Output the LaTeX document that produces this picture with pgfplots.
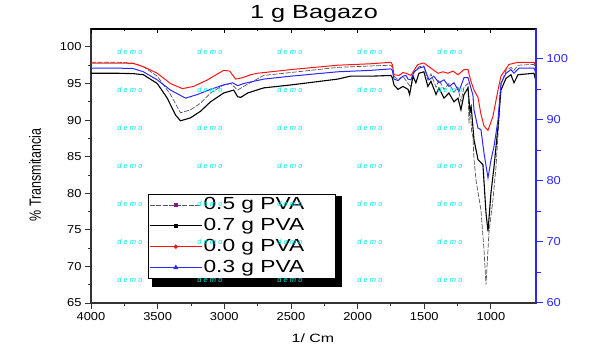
\documentclass[border=0pt]{standalone}
\usepackage{fontspec}
\setmainfont{Liberation Sans}
\newfontfamily\wfont[FakeStretch=1.33]{Liberation Sans}
\newfontfamily\tfont[FakeStretch=1.12]{Liberation Sans}
\usepackage{pgfplots}
\pgfplotsset{compat=1.18}
\definecolor{myblue}{RGB}{40,40,255}
\definecolor{myred}{RGB}{255,20,20}
\definecolor{demo}{RGB}{0,230,230}
\definecolor{mygray}{RGB}{85,85,85}
\definecolor{mypurple}{RGB}{140,20,140}
\newcommand{\leg}[1]{\scalebox{1.3}[1]{\fontsize{17.5}{18}\selectfont #1}\hspace{29pt}\null}
\begin{document}
\begin{tikzpicture}
\path[use as bounding box] (-91pt,-55pt) rectangle (507pt,303pt);
\fill[black] (61pt,16pt) rectangle (251pt,107pt);
\pgfplotsset{common/.style={scale only axis, width=445pt, height=274pt, at={(0pt,0pt)}, anchor=south west}}
\begin{axis}[common,
  x dir=reverse, xmin=662, xmax=4000, ymin=65, ymax=102.45,
  xtick={1000,1500,...,4000}, minor x tick num=1,
  ytick={65,70,...,100}, minor y tick num=1,
  xtick pos=bottom, ytick pos=left, tick align=outside,
  major tick length=6pt, minor tick length=3pt,
  axis line style={line width=1.1pt, black!80},
  tick style={line width=0.9pt, black!80},
  /pgf/number format/assume math mode=true,
  /pgf/number format/1000 sep={},
  ticklabel style={font=\tfont\fontsize{11.5}{12}\selectfont},
  legend style={at={(0.128,0.398)}, anchor=north west, draw=black, line width=0.6pt, fill=white,
    inner xsep=1pt, inner ysep=0.5pt, row sep=0pt,
    nodes={inner sep=1.2pt, text height=13.8pt, text depth=4.6pt}},
  legend cell align=left,
  legend image code/.code={\draw[#1,mark repeat=2,mark phase=2] plot coordinates {(0pt,0pt) (26pt,0pt) (52pt,0pt)};},
]
\addplot[mygray, line width=0.7pt, dash pattern=on 5pt off 1.5pt,
  legend image post style={mark=square*, mark size=1.6pt, mark options={solid, draw=mypurple, fill=mypurple}}] table {
4000 97.9
3800 97.9
3684 97.8
3607 97.3
3503 96.0
3404 93.5
3329 91.0
3254 91.4
3179 92.3
3103 93.7
3005 94.8
2953 95.0
2900 94.1
2855 94.6
2705 96.1
2502 96.5
2150 97.2
1900 97.4
1750 97.5
1740 97.2
1727 96.0
1697 95.5
1660 96.0
1622 95.0
1600 94.5
1577 96.5
1540 97.3
1503 97.4
1473 95.5
1450 96.3
1412 94.5
1390 95.5
1352 94.2
1315 95.0
1277 93.8
1247 94.5
1225 92.5
1202 94.5
1172 95.0
1165 89.5
1157 92.0
1145 88.5
1135 87.7
1127 84.6
1112 81.8
1075 77.7
1052 72.3
1037 67.5
1015 74.6
985 79.1
962 83.6
940 90.0
925 94.8
887 96.8
850 97.2
827 96.8
797 97.5
677 97.6
662 97.0
};
\addlegendentry{\leg{0.5 g PVA}}
\addplot[black, line width=1.1pt,
  legend image post style={mark=square*, mark size=1.6pt, mark options={solid, fill=black}}] table {
4000 96.4
3800 96.4
3684 96.35
3607 96.2
3503 95.0
3428 93.0
3366 90.7
3329 89.9
3254 90.3
3179 91.2
3103 92.5
3005 93.7
2930 94.1
2900 93.2
2877 93.1
2825 93.7
2705 94.4
2502 94.8
2150 95.6
2055 96.0
1900 96.0
1750 96.1
1740 95.8
1727 94.8
1697 94.2
1660 94.6
1622 94.2
1610 93.5
1585 96.0
1563 95.1
1540 96.4
1503 96.6
1473 94.6
1450 95.3
1412 93.5
1390 94.4
1352 93.0
1315 93.7
1277 92.5
1247 93.0
1225 91.4
1202 93.5
1172 94.4
1157 91.2
1148 91.8
1127 87.3
1097 84.6
1060 83.9
1037 77.3
1022 74.8
1000 80.0
977 83.6
947 89.1
925 94.1
887 95.7
850 96.2
827 95.1
797 96.2
677 96.4
662 95.3
};
\addlegendentry{\leg{0.7 g PVA}}
\addplot[myred, line width=1pt,
  legend image post style={mark=*, mark size=1.6pt, mark options={solid, fill=myred}}] table {
4000 97.8
3800 97.8
3684 97.75
3607 97.3
3503 96.4
3404 95.0
3314 94.3
3231 94.6
3126 95.5
3005 96.8
2960 96.7
2915 95.6
2862 95.8
2802 96.2
2750 96.4
2502 96.9
2148 97.5
1900 97.7
1750 97.9
1740 97.6
1727 96.2
1690 96.1
1660 96.5
1637 96.4
1600 96.1
1563 97.2
1548 97.6
1503 97.8
1450 97.1
1397 96.4
1360 96.6
1322 96.4
1285 96.7
1247 96.2
1202 96.9
1172 96.9
1150 95.3
1127 94.1
1097 93.1
1075 90.8
1052 89.2
1022 88.6
985 90.5
947 94.1
925 96.0
865 97.6
797 97.9
677 97.9
662 97.4
};
\addlegendentry{\leg{0.0 g PVA}}
\addplot[myblue, line width=1pt,
  legend image post style={mark=triangle*, mark size=2pt, mark options={solid, fill=myblue}}] table {
4000 97.1
3800 97.1
3684 97.05
3607 96.6
3503 95.5
3404 94.1
3291 93.0
3201 93.5
3103 94.2
3005 94.8
2938 95.1
2900 94.7
2855 95.0
2705 95.6
2502 96.0
2150 96.6
1900 96.8
1750 97.0
1740 96.8
1727 95.6
1697 95.4
1660 96.0
1637 96.1
1622 95.6
1600 95.5
1577 96.6
1540 97.1
1503 97.3
1465 95.5
1428 96.0
1390 95.1
1352 95.5
1315 94.6
1277 95.1
1240 93.9
1202 95.8
1172 95.8
1135 93.4
1127 91.4
1097 88.9
1075 88.7
1052 85.5
1022 82.1
1000 84.5
977 86.4
947 90.0
925 95.0
887 96.4
850 96.9
827 96.4
790 97.1
677 97.1
662 96.4
};
\addlegendentry{\leg{0.3 g PVA}}
\end{axis}
\begin{axis}[common, axis x line*=top, axis y line=none, x dir=reverse, xmin=662, xmax=4000, ymin=0, ymax=1,
  xtick={1000,1500,...,4000}, minor x tick num=1, xticklabels={}, tick align=inside,
  major tick length=4pt, minor tick length=2pt,
  x axis line style={line width=1.1pt, black}, tick style={line width=0.9pt, black}]
\addplot[draw=none] coordinates {(2000,0.5)};
\end{axis}
\begin{axis}[common, axis y line*=right, axis x line=none, xmin=0, xmax=1, ymin=60, ymax=104.85,
  ytick={60,70,...,100}, minor y tick num=1, tick align=outside,
  major tick length=7pt, minor tick length=5pt,
  y axis line style={myblue, line width=1.2pt}, tick style={myblue, line width=1pt},
  /pgf/number format/assume math mode=true,
  yticklabel style={text=myblue, font=\tfont\fontsize{11.5}{12}\selectfont}]
\addplot[draw=none] coordinates {(0.5,80)};
\end{axis}
\foreach \cx in {39,119,199,279,359}{
  \foreach \cy in {251,213,175,137,99,61,23}{
    \node[text=demo, font=\itshape\fontsize{7.5}{8}\selectfont, inner sep=0pt] at (\cx pt,\cy pt) {d e m o};
  }
}
\node[font=\wfont\fontsize{19}{20}\selectfont, anchor=base] at (223pt,284pt) {1 g Bagazo};
\node[font=\fontsize{12.5}{13}\selectfont, rotate=90] at (-56pt,128pt) {\scalebox{1}[1.3]{\% Transmitancia}};
\node[font=\wfont\fontsize{12}{13}\selectfont, anchor=base] at (222pt,-39.7pt) {1/ Cm};
\end{tikzpicture}
\end{document}
